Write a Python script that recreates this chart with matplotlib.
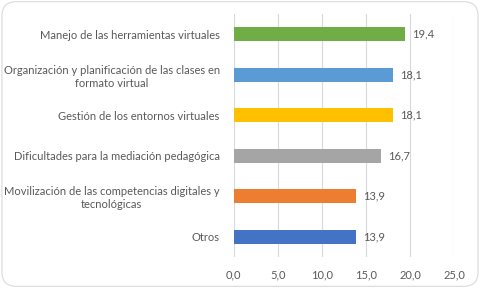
import matplotlib
matplotlib.use("Agg")
import matplotlib.pyplot as plt
from matplotlib.patches import FancyBboxPatch

categories = [
    "Manejo de las herramientas virtuales",
    "Organización y planificación de las clases en\nformato virtual",
    "Gestión de los entornos virtuales",
    "Dificultades para la mediación pedagógica",
    "Movilización de las competencias digitales y\ntecnológicas",
    "Otros",
]
values = [19.4, 18.1, 18.1, 16.7, 13.9, 13.9]
colors = ["#70AD47", "#5B9BD5", "#FFC000", "#A5A5A5", "#ED7D31", "#4472C4"]
xticks = [0, 5, 10, 15, 20, 25]

plt.rcParams['font.family'] = ['Lato', 'DejaVu Sans']
text_color = "#595959"

fig = plt.figure(figsize=(4.8, 2.88), dpi=100)
ax = fig.add_axes([0.4865, 0.1076, 0.46, 0.8438])

pos = list(range(len(categories)))
ax.barh(pos, values, height=0.35, color=colors, zorder=3)
ax.set_ylim(len(categories) - 0.5, -0.5)
ax.set_xlim(0, 25)
ax.set_xticks(xticks)
ax.set_xticklabels([f"{t:.1f}".replace(".", ",") for t in xticks],
                   fontsize=8, color=text_color)
ax.set_yticks(pos)
ax.set_yticklabels(categories, fontsize=8, color=text_color, multialignment="center")
ax.tick_params(length=0, pad=10)
ax.tick_params(axis="x", pad=9)
ax.grid(axis="x", color="#D9D9D9", linewidth=0.8, zorder=0)
for s in ax.spines.values():
    s.set_visible(False)

for p, v in zip(pos, values):
    ax.text(v + 0.8, p, f"{v:.1f}".replace(".", ","), va="center", ha="left",
            fontsize=8, color=text_color)

border = FancyBboxPatch((0.004, 0.006), 0.992, 0.988, boxstyle="round,pad=0,rounding_size=0.03",
                        transform=fig.transFigure, facecolor="none", edgecolor="#D9D9D9",
                        linewidth=0.8, mutation_aspect=1.67)
fig.patches.append(border)

fig.savefig("out.png", dpi=100)
